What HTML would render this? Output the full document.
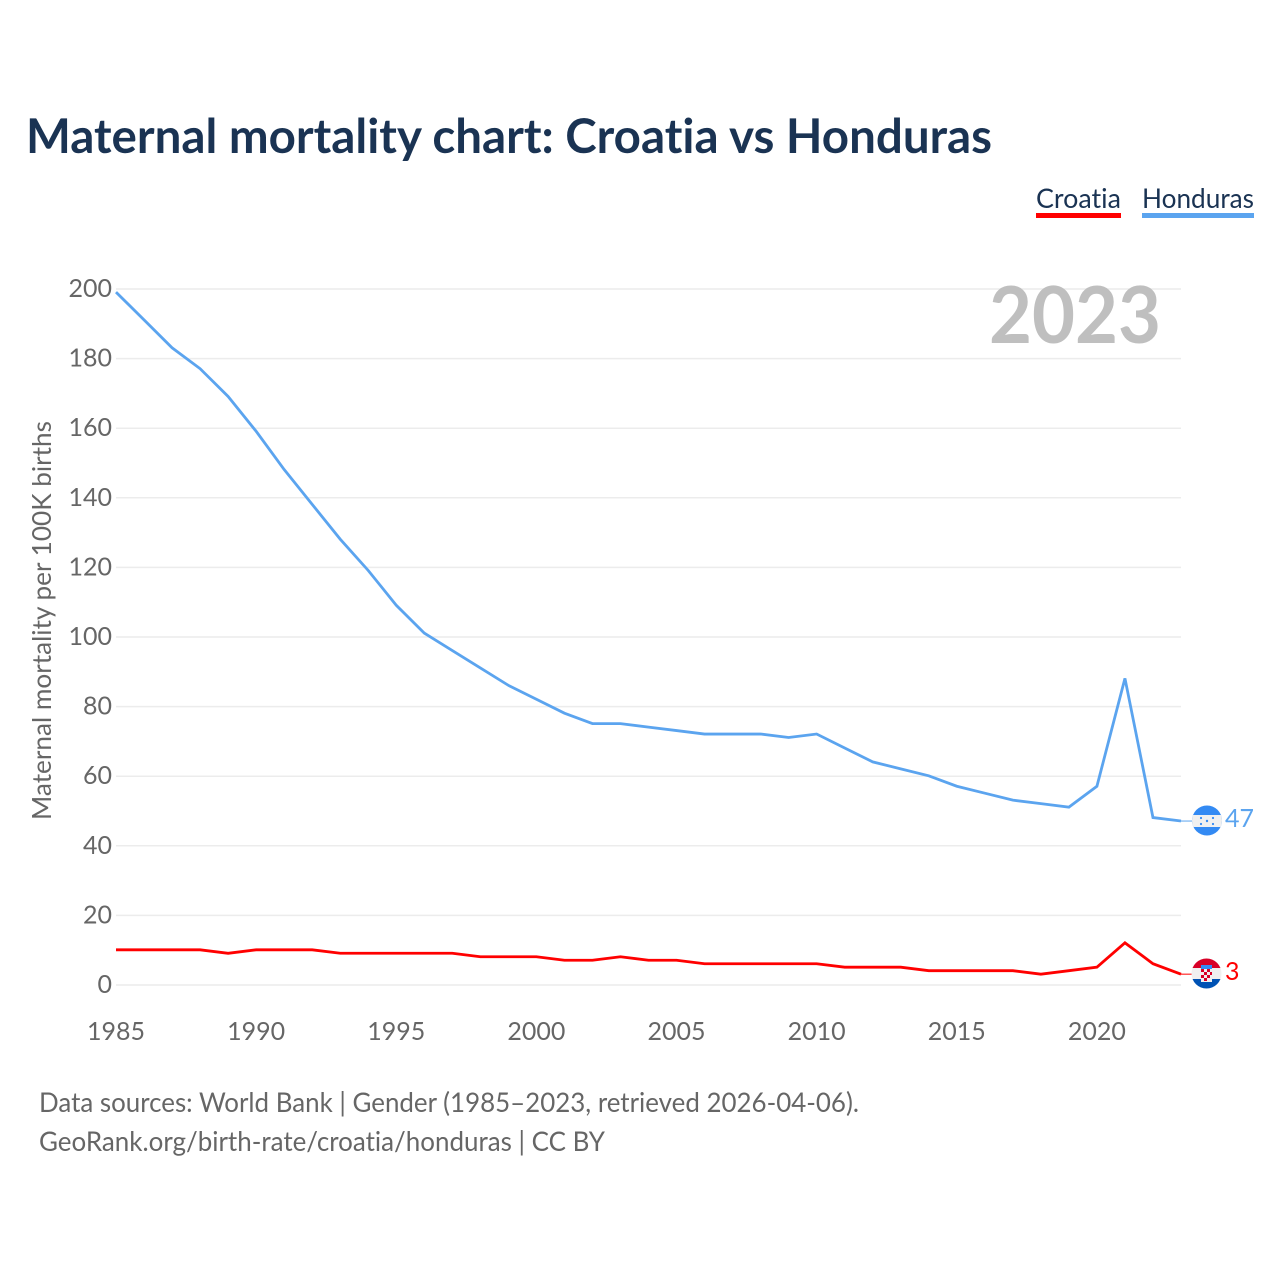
<!DOCTYPE html>
<html lang="en">
<head>
<meta charset="utf-8">
<title>Maternal mortality chart: Croatia vs Honduras</title>
<style>
html,body{margin:0;padding:0;background:#fff;}
svg{display:block;}
text{font-family:"Lato","Carlito","Liberation Sans",sans-serif;font-variant-ligatures:none;font-feature-settings:"liga" 0,"clig" 0;}
</style>
</head>
<body>
<svg id="chart" xmlns="http://www.w3.org/2000/svg" width="1280" height="1280" viewBox="0 0 1280 1280">
  <text x="26" y="153" font-size="47.5" font-weight="700" fill="#1a3353" textLength="966" lengthAdjust="spacingAndGlyphs">Maternal mortality chart: Croatia vs Honduras</text>
  <text x="1036" y="208" font-size="27" fill="#1a3353" textLength="85" lengthAdjust="spacingAndGlyphs">Croatia</text>
  <rect x="1036" y="213" width="85" height="5" fill="#ff0000"/>
  <text x="1142" y="208" font-size="27" fill="#1a3353" textLength="112" lengthAdjust="spacingAndGlyphs">Honduras</text>
  <rect x="1142" y="213" width="112" height="5" fill="#5ba4ef"/>
  <g id="grid"></g>
  <text x="1161" y="343" font-size="79" font-weight="700" fill="#bfbfbf" text-anchor="end" textLength="172" lengthAdjust="spacingAndGlyphs">2023</text>
  <text transform="translate(51,620.5) rotate(-90)" font-size="26" fill="#666" text-anchor="middle" textLength="399" lengthAdjust="spacingAndGlyphs">Maternal mortality per 100K births</text>
  <g id="series"></g>

  <g>
    <clipPath id="clip-hn"><circle cx="1207" cy="820.5" r="15"/></clipPath>
    <g clip-path="url(#clip-hn)">
      <rect x="1190" y="804" width="34" height="34" fill="#338af3"/>
      <rect x="1190" y="815" width="34" height="12" fill="#f0f0f0"/>
      <circle cx="1207" cy="821" r="1.2" fill="#338af3"/>
      <circle cx="1201" cy="818" r="1.1" fill="#338af3"/>
      <circle cx="1213" cy="818" r="1.1" fill="#338af3"/>
      <circle cx="1201" cy="824" r="1.1" fill="#338af3"/>
      <circle cx="1213" cy="824" r="1.1" fill="#338af3"/>
    </g>
  </g>
  <text x="1225" y="827" font-size="25" fill="#5ba4ef">47</text>

  <g>
    <clipPath id="clip-hr"><circle cx="1206.5" cy="973.5" r="15"/></clipPath>
    <g clip-path="url(#clip-hr)">
      <rect x="1190" y="957" width="34" height="11" fill="#d80027"/>
      <rect x="1190" y="968" width="34" height="11" fill="#f0f0f0"/>
      <rect x="1190" y="979" width="34" height="11" fill="#0052b4"/>
      <rect x="1201" y="965" width="11" height="4" fill="#338af3"/>
      <rect x="1201" y="969" width="11" height="13" fill="#f0f0f0"/>
      <g fill="#d80027">
        <rect x="1201" y="969" width="3" height="3"/><rect x="1207" y="969" width="3" height="3"/>
        <rect x="1204" y="972" width="3" height="3"/><rect x="1210" y="972" width="2" height="3"/>
        <rect x="1201" y="975" width="3" height="3"/><rect x="1207" y="975" width="3" height="3"/>
        <rect x="1204" y="978" width="3" height="3"/>
      </g>
    </g>
  </g>
  <text x="1225" y="980" font-size="25" fill="#ff0000">3</text>

  <text x="39" y="1112" font-size="27" fill="#666" textLength="820" lengthAdjust="spacingAndGlyphs">Data sources: World Bank | Gender (1985–2023, retrieved 2026-04-06).</text>
  <text x="39" y="1151" font-size="27" fill="#666" textLength="566" lengthAdjust="spacingAndGlyphs">GeoRank.org/birth-rate/croatia/honduras | CC BY</text>
</svg>
<script>
const years = [1985,1986,1987,1988,1989,1990,1991,1992,1993,1994,1995,1996,1997,1998,1999,2000,2001,2002,2003,2004,2005,2006,2007,2008,2009,2010,2011,2012,2013,2014,2015,2016,2017,2018,2019,2020,2021,2022,2023];
const hondurasValues = [199,191,183,177,169,159,148,138,128,119,109,101,96,91,86,82,78,75,75,74,73,72,72,72,71,72,68,64,62,60,57,55,53,52,51,57,88,48,47];
const croatiaValues = [10,10,10,10,9,10,10,10,9,9,9,9,9,8,8,8,7,7,8,7,7,6,6,6,6,6,5,5,5,4,4,4,4,3,4,5,12,6,3];
const yTicks = [0,20,40,60,80,100,120,140,160,180,200];
const xTicks = [1985,1990,1995,2000,2005,2010,2015,2020];

const NS = 'http://www.w3.org/2000/svg';
const xScale = function (year) { return 116 + (year - 1985) * (1181 - 116) / 38; };
const yScale = function (value) { return 985 - value * 3.48; };
const lineY = function (value) { return yScale(value) - 0.4; };

const grid = document.getElementById('grid');
yTicks.forEach(function (tick) {
  const line = document.createElementNS(NS, 'line');
  
  
  line.setAttribute('x1', 116);
  line.setAttribute('x2', 1181);
  line.setAttribute('y1', yScale(tick));
  line.setAttribute('y2', yScale(tick));
  line.setAttribute('stroke', '#ececec');
  line.setAttribute('stroke-width', 1.5);
  grid.appendChild(line);

  const label = document.createElementNS(NS, 'text');
  
  
  label.setAttribute('x', 112);
  label.setAttribute('y', yScale(tick) + 8);
  label.setAttribute('font-size', 25);
  label.setAttribute('fill', '#666');
  label.setAttribute('text-anchor', 'end');
  label.textContent = tick;
  grid.appendChild(label);
});

xTicks.forEach(function (tick) {
  const label = document.createElementNS(NS, 'text');
  
  
  label.setAttribute('x', xScale(tick));
  label.setAttribute('y', 1040);
  label.setAttribute('font-size', 25);
  label.setAttribute('fill', '#666');
  label.setAttribute('text-anchor', 'middle');
  label.textContent = tick;
  grid.appendChild(label);
});

const seriesGroup = document.getElementById('series');

function pointsFor(values) {
  return values.map(function (v, i) { return xScale(years[i]).toFixed(2) + ',' + lineY(v).toFixed(2); }).join(' ');
}

const hondurasLine = document.createElementNS(NS, 'polyline');


hondurasLine.setAttribute('points', pointsFor(hondurasValues));
hondurasLine.setAttribute('fill', 'none');
hondurasLine.setAttribute('stroke', '#5ba4ef');
hondurasLine.setAttribute('stroke-width', 2.8);
seriesGroup.appendChild(hondurasLine);

const croatiaLine = document.createElementNS(NS, 'polyline');


croatiaLine.setAttribute('points', pointsFor(croatiaValues));
croatiaLine.setAttribute('fill', 'none');
croatiaLine.setAttribute('stroke', '#ff0000');
croatiaLine.setAttribute('stroke-width', 2.8);
seriesGroup.appendChild(croatiaLine);

const hondurasConnector = document.createElementNS(NS, 'line');


hondurasConnector.setAttribute('x1', xScale(2023));
hondurasConnector.setAttribute('x2', 1192);
hondurasConnector.setAttribute('y1', lineY(hondurasValues[38]));
hondurasConnector.setAttribute('y2', lineY(hondurasValues[38]));
hondurasConnector.setAttribute('stroke', '#5ba4ef');
hondurasConnector.setAttribute('stroke-width', 1);
seriesGroup.appendChild(hondurasConnector);

const croatiaConnector = document.createElementNS(NS, 'line');


croatiaConnector.setAttribute('x1', xScale(2023));
croatiaConnector.setAttribute('x2', 1192);
croatiaConnector.setAttribute('y1', lineY(croatiaValues[38]));
croatiaConnector.setAttribute('y2', lineY(croatiaValues[38]));
croatiaConnector.setAttribute('stroke', '#ff0000');
croatiaConnector.setAttribute('stroke-width', 1);
seriesGroup.appendChild(croatiaConnector);
</script>
</body>
</html>
